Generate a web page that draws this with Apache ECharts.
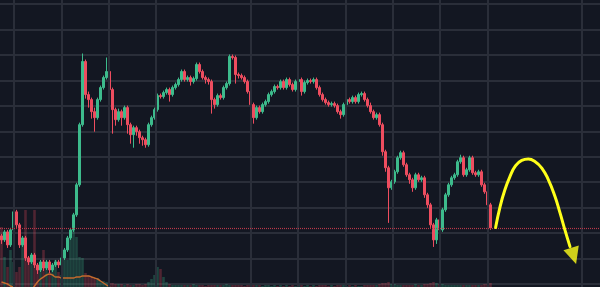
<!DOCTYPE html>
<html><head><meta charset="utf-8">
<script src="https://cdn.jsdelivr.net/npm/echarts@6/dist/echarts.min.js"></script>
<style>html,body{margin:0;padding:0;background:#131722;overflow:hidden}#c{width:600px;height:287px}</style>
</head><body><div id="c"></div>
<script>
const opens=[48,44,52,39,54,72,59,39,46,26,
22,29,19,14,22,16,22,14,19,22,
19,26,34,46,54,69,99,159,222,189,
184,172,166,184,196,206,212,194,174,164,
172,166,176,159,149,156,152,146,144,139,
159,166,174,188,187,191,194,189,196,199,
204,212,204,206,202,205,219,212,206,204,
202,184,179,188,186,196,200,227,226,209,
208,206,202,192,179,166,176,172,179,182,
189,192,197,196,202,196,204,199,194,202,
204,192,201,203,202,204,196,189,184,181,
179,180,178,172,169,179,184,182,186,182,
189,190,184,178,172,166,169,159,132,116,
96,102,112,126,131,119,109,104,96,109,
104,106,89,79,59,44,64,54,74,89,
99,106,109,122,126,109,114,126,111,109,
112,99,92,79];
const closes=[44,52,39,54,72,59,39,46,26,22,
29,19,14,22,16,22,14,19,22,19,
26,34,46,54,69,99,159,222,189,184,
172,166,184,196,206,212,194,174,164,172,
166,176,159,149,156,152,146,144,139,159,
166,174,188,187,191,194,189,196,199,204,
212,204,206,202,205,219,212,206,204,202,
184,179,188,186,196,200,227,226,209,208,
206,202,192,179,166,176,172,179,182,189,
192,197,196,202,196,204,199,194,202,204,
192,201,203,202,204,196,189,184,181,179,
180,178,172,169,179,184,182,186,182,189,
190,184,178,172,166,169,159,132,116,96,
102,112,126,131,119,109,104,96,109,104,
106,89,79,59,44,64,54,74,89,99,
106,109,122,126,109,114,126,111,109,112,
99,92,79,56];
const highs=[50,54,54,56,76,74,61,48,48,28,
31,31,21,24,24,24,24,21,24,24,
28,36,48,56,71,101,161,230,224,192,
186,176,186,198,208,226,214,196,176,175,
174,178,178,161,158,158,154,148,146,161,
168,176,190,190,193,196,196,198,201,206,
214,214,208,208,207,221,221,214,208,206,
204,186,190,190,198,202,229,229,228,211,
210,208,204,194,181,178,178,181,184,191,
194,199,199,204,204,206,206,201,204,206,
206,203,205,205,206,206,198,191,186,183,
182,182,180,174,181,186,186,188,188,191,
192,192,186,181,174,171,171,161,134,118,
104,114,128,133,133,121,111,106,111,111,
108,108,91,81,61,66,66,76,91,101,
108,111,124,129,128,116,128,128,113,114,
114,101,94,81];
const lows=[40,42,36,37,52,56,36,37,23,19,
20,16,10,12,13,14,11,12,17,16,
17,24,32,44,52,67,97,157,185,176,
165,152,164,182,194,204,190,150,158,162,
158,164,150,140,136,148,140,138,136,137,
157,164,172,185,185,189,182,187,194,197,
202,202,202,198,200,203,210,204,200,199,
170,175,177,184,184,194,198,224,200,205,
204,200,190,175,160,164,170,170,177,180,
187,190,194,194,194,194,197,192,192,200,
188,190,199,200,200,194,187,182,179,177,
177,176,170,165,167,177,180,180,180,180,
187,182,176,170,164,164,157,128,112,61,
94,100,110,124,117,107,100,92,94,102,
102,86,76,56,37,40,50,52,72,87,
97,104,107,120,107,107,112,109,107,107,
97,90,77,54];
const volumes=[60,30,20,37,25,15,20,44,77,30,
25,77,20,25,37,20,15,20,27,15,
12,27,27,50,64,50,30,29,14,12,
10,8,9,6,6,5,4,4,3,3,
3,2,3,2,2,3,3,2,3,5,
8,12,20,18,10,5,3,2,2,2,
2,2,2,2,3,2,2,2,1,2,
2,2,2,2,2,3,2,2,2,2,
2,1,2,2,2,2,2,1,2,2,
1,2,1,2,1,2,1,2,1,2,
2,1,2,1,2,1,2,2,2,1,
2,1,2,2,2,1,2,1,2,1,
1,2,2,2,2,2,3,4,4,5,
3,3,2,2,2,2,2,2,3,2,
2,3,3,4,5,4,3,3,2,2,
2,2,2,2,2,2,2,2,2,2,
2,3,3,4];
const volumeMA=[5,4,3,1,0,-1,-2,-2,-2,-2,
-2,1,5,8,10,12,13,12,10,10,
9,9,9,9,9,10,10,11,11,11,
10,9,8,6,4,2,0,-2];
const lastPrice=56;
const forecastPath=[[164.7,56.3],[166.2,77.3],[167.8,94],[169.5,107.3],[171.2,117.3],[173.4,123.3],[175.6,124.7],[177.8,122.3],[180.1,115.7],[182.3,104],[184.5,87.3],[186.2,70.7],[187.8,54],[189.5,37.3]];
const forecastTip=[190.7,28];
const slotCount=200;
const columnCount=12;
const visibleColumns=[0,1,2,3,5,6,7,8,9,10,12];

const UP='#3dbb8c', DOWN='#ee4d5f', GRIDC='#2a2e39';
const slots=Array.from({length:slotCount},(_,i)=>String(i));
const candleData=opens.map((o,i)=>[o,closes[i],lows[i],highs[i]]);
const volData=volumes.map((v,i)=>({value:v,itemStyle:{color:closes[i]>=opens[i]?'rgba(61,187,140,0.28)':'rgba(238,77,95,0.28)'}}));

const chart=echarts.init(document.getElementById('c'),null,{renderer:'canvas'});
chart.setOption({
  animation:false,
  backgroundColor:'#131722',
  grid:[
    {left:0,right:0,top:4,bottom:3},
    {left:14,right:18,top:0,bottom:0},
    {left:0,right:0,top:0,bottom:0}
  ],
  xAxis:[
    {type:'category',gridIndex:0,data:slots,show:false},
    {type:'value',gridIndex:0,min:-0.5,max:slotCount-0.5,show:false},
    {type:'value',gridIndex:1,min:0,max:columnCount,show:false},
    {type:'category',gridIndex:2,data:slots,show:false}
  ],
  yAxis:[
    {type:'value',gridIndex:0,min:0,max:11,interval:1,axisLine:{show:false},axisTick:{show:false},axisLabel:{show:false},
      splitLine:{show:true,lineStyle:{color:GRIDC,width:2}}},
    {type:'value',gridIndex:0,min:0,max:279.4,show:false},
    {type:'value',gridIndex:1,min:0,max:1,show:false},
    {type:'value',gridIndex:2,min:0,max:287,show:false}
  ],
  series:[
    {type:'line',xAxisIndex:2,yAxisIndex:2,data:[],z:0,silent:true,
      markLine:{silent:true,symbol:'none',label:{show:false},
        lineStyle:{color:GRIDC,type:'solid',width:2},
        data:visibleColumns.map(c=>({xAxis:c}))}},
    {type:'bar',xAxisIndex:3,yAxisIndex:3,data:volData,barWidth:2.6,z:1,silent:true},
    {type:'line',xAxisIndex:3,yAxisIndex:3,data:volumeMA,symbol:'none',smooth:true,z:1,silent:true,
      lineStyle:{color:'#c36a2d',width:1.5}},
    {type:'candlestick',xAxisIndex:0,yAxisIndex:1,data:candleData,barWidth:'88%',clip:false,z:3,
      itemStyle:{color:UP,color0:DOWN,borderColor:UP,borderColor0:DOWN,borderWidth:1},
      markLine:{silent:true,symbol:'none',label:{show:false},
        lineStyle:{color:'#b8384a',type:[1,1],width:1.2},data:[{yAxis:lastPrice}]}},
    {type:'line',xAxisIndex:1,yAxisIndex:1,data:forecastPath,smooth:true,symbol:'none',z:5,silent:true,
      lineStyle:{color:'#ffff1a',width:3,cap:'round'}},
    {type:'scatter',xAxisIndex:1,yAxisIndex:1,data:[forecastTip],symbol:'triangle',symbolSize:[16,17],symbolRotate:197,z:5,silent:true,
      itemStyle:{color:'#ffff1a'}}
  ]
});
</script>
</body></html>
